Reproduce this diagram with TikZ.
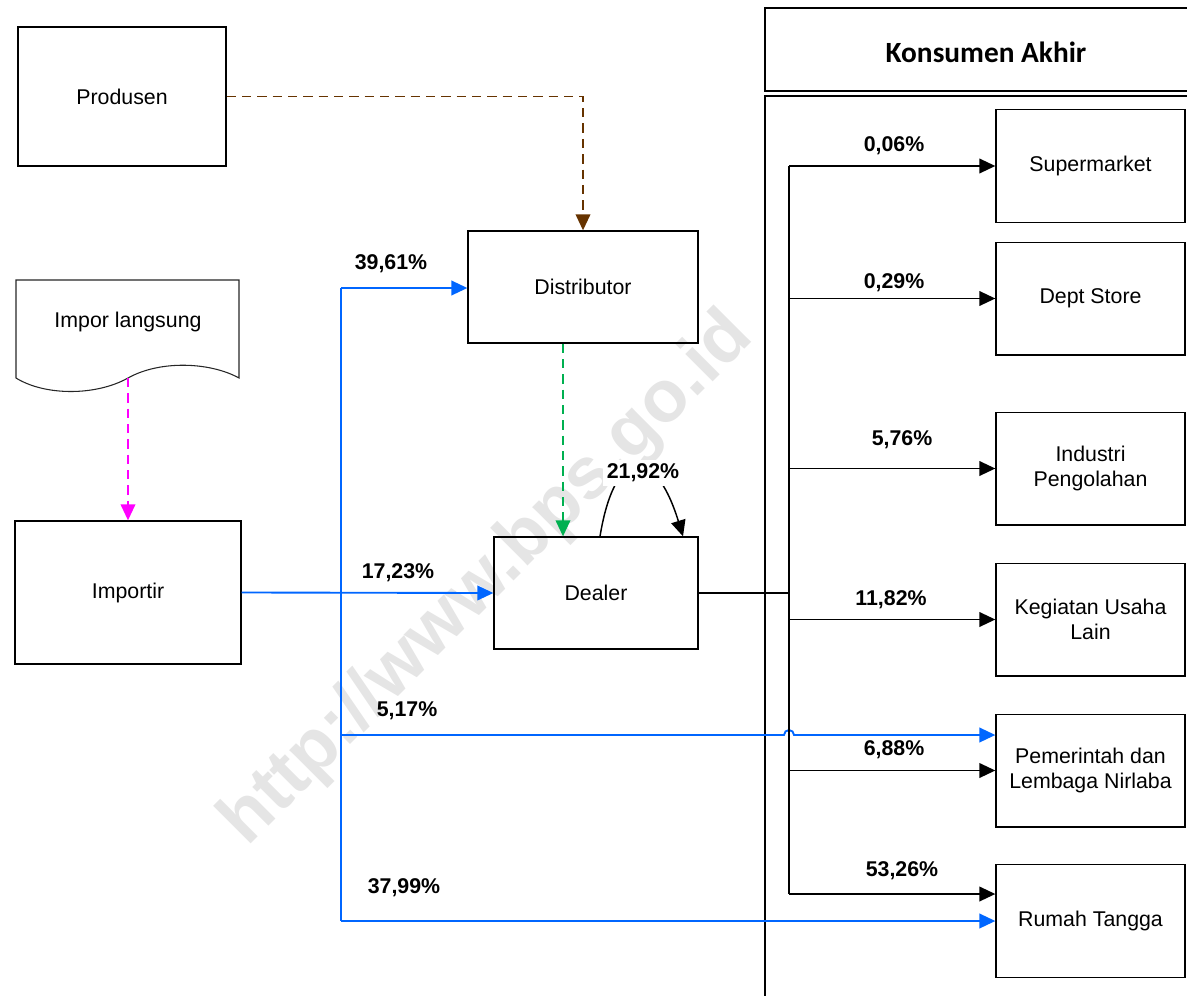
\documentclass[tikz,border=0pt]{standalone}
\usepackage{fontspec}
\setmainfont{Liberation Sans}
\newfontfamily\hdrfont{Carlito}
\usetikzlibrary{arrows.meta,calc}
\definecolor{flowblue}{RGB}{0,102,255}
\definecolor{flowbrown}{RGB}{102,51,0}
\definecolor{flowgreen}{RGB}{0,176,80}
\definecolor{flowmagenta}{RGB}{255,0,255}
\tikzset{
  box/.style={draw=black, line width=1pt, rectangle, align=center,
    font=\fontsize{16}{19}\selectfont, inner sep=2pt},
  pct/.style={font=\fontsize{16}{19}\selectfont\bfseries, inner sep=1pt},
  tip/.style={-{Triangle[length=12pt,width=11pt]}},
  blk/.style={draw=black, line width=1.3pt},
  blu/.style={draw=flowblue, line width=1.4pt},
}
\begin{document}
\begin{tikzpicture}[x=0.75pt, y=-0.75pt]
\useasboundingbox (0,0) rectangle (1187,995);
\clip (0,0) rectangle (1187,995);

% watermark
\node[rotate=45, text=black!10, font=\fontsize{55}{60}\selectfont\bfseries] (wm) at (488,580) {http://www.bps.go.id};

% consumer panel
\draw[line width=1.6pt] (1200,8) -- (765,8) -- (765,91) -- (1200,91);
\draw[line width=1.6pt] (1200,96) -- (765,96) -- (765,1010);
\node[font=\hdrfont\fontsize{22}{26}\selectfont\bfseries] (hdr) at (986,52) {Konsumen Akhir};

% sources
\node[box, minimum width=156pt, minimum height=104.25pt] (produsen) at (122,96.5) {Produsen};
\draw[line width=0.8pt, draw=black!85] (128,378) .. controls (96,396) and (45,396) .. (16,378)
  -- (16,280) -- (239,280) -- (239,378) .. controls (210,362) and (160,360) .. (128,378);
\node[font=\fontsize{16}{19}\selectfont] (impor) at (128,322) {Impor langsung};
\coordinate (imporbot) at (128,378);
\node[box, minimum width=169.5pt, minimum height=107.25pt] (importir) at (128,592.5) {Importir};
\node[box, minimum width=172.5pt, minimum height=84pt] (distributor) at (583,287) {Distributor};
\node[box, minimum width=153pt, minimum height=84pt] (dealer) at (596,593) {Dealer};

% final consumers
\node[box, minimum width=141.75pt, minimum height=84.5pt] (super) at (1090.5,166) {Supermarket};
\node[box, minimum width=141.75pt, minimum height=84.5pt] (dept) at (1090.5,298.5) {Dept Store};
\node[box, minimum width=141.75pt, minimum height=84.5pt] (industri) at (1090.5,468.5) {Industri\\Pengolahan};
\node[box, minimum width=141.75pt, minimum height=84.5pt] (kegiatan) at (1090.5,619.5) {Kegiatan Usaha\\Lain};
\node[box, minimum width=141.75pt, minimum height=84.5pt] (pemerintah) at (1090.5,770.5) {Pemerintah dan\\Lembaga Nirlaba};
\node[box, minimum width=141.75pt, minimum height=84.5pt] (rumah) at (1090.5,921) {Rumah Tangga};

% dashed supply links
\draw[flowbrown, line width=1.2pt, dash pattern=on 7pt off 4.5pt, tip] (produsen.east) -| (distributor.north);
\draw[flowgreen, line width=1.2pt, dash pattern=on 7pt off 4.5pt, tip] ($(distributor.south)+(-20,0)$) -- ($(dealer.north)+(-33,0)$);
\draw[flowmagenta, line width=1.2pt, dash pattern=on 7pt off 4.5pt, tip] (imporbot) -- (importir.north);

% dealer self loop
\draw[black, line width=1.1pt, tip] ($(dealer.north)+(4,0)$) .. controls (615,445) and (655,445) .. ($(dealer.north)+(87,0)$);
\node[pct, fill=white, inner sep=3pt] (p2192) at (643,473) {21,92\%};

% importer flows
\coordinate (bt) at (341,288);
\coordinate (bb) at (341,921);
\draw[blu] (bt) -- (bb);
\draw[blu, tip] (importir.east) -- (dealer.west);
\draw[blu, tip] (bt) -- (distributor.west |- bt);
\draw[blu, tip] (341,735) -- (784,735) arc[start angle=180, end angle=0, radius=3.75pt] -- (pemerintah.west |- 0,735);
\draw[blu, tip] (341,921) -- (rumah.west);
\node[pct] (p3961) at (391,264) {39,61\%};
\node[pct] (p1723) at (398,573) {17,23\%};
\node[pct] (p517) at (407,711) {5,17\%};
\node[pct] (p3799) at (404,888) {37,99\%};

% dealer distribution
\coordinate (tt) at (789,166);
\coordinate (tb) at (789,894);
\draw[blk] (dealer.east) -- (dealer.east -| tt);
\draw[blk] (tt) -- (tb);
\draw[blk, tip] (tt) -- (super.west);
\draw[blk, tip] (789,298.5) -- (dept.west);
\draw[blk, tip] (789,468.5) -- (industri.west);
\draw[blk, tip] (789,619.5) -- (kegiatan.west);
\draw[blk, tip] (789,770.5) -- (pemerintah.west);
\draw[blk, tip] (tb) -- (rumah.west |- tb);
\node[pct] (p006) at (894,146) {0,06\%};
\node[pct] (p029) at (894,283) {0,29\%};
\node[pct] (p576) at (902,440) {5,76\%};
\node[pct] (p1182) at (891,600) {11,82\%};
\node[pct] (p688) at (894,750) {6,88\%};
\node[pct] (p5326) at (902,871) {53,26\%};
\end{tikzpicture}
\end{document}
